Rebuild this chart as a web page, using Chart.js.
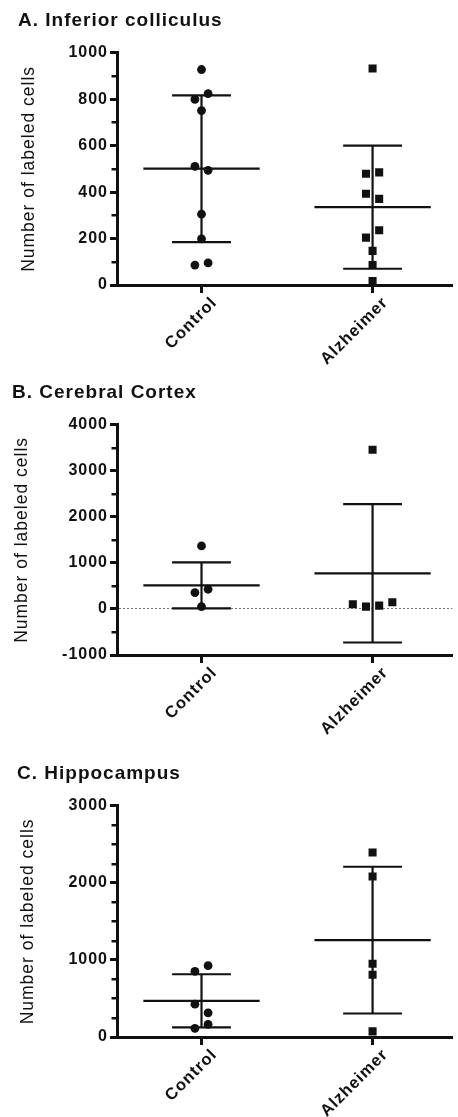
<!DOCTYPE html>
<html>
<head>
<meta charset="utf-8">
<script src="https://cdn.jsdelivr.net/npm/chart.js@4"></script>
<style>
html,body{margin:0;padding:0;background:#fff;}
#wrap{position:relative;width:458px;height:1117px;overflow:hidden;background:#fff;}
.panel{position:absolute;left:0;width:458px;}
canvas{display:block;}
</style>
</head>
<body>
<div id="wrap">
  <div class="panel" style="top:0;height:372px"><canvas id="cA"></canvas></div>
  <div class="panel" style="top:372px;height:381px"><canvas id="cB"></canvas></div>
  <div class="panel" style="top:753px;height:364px"><canvas id="cC"></canvas></div>
</div>
<script>
// ---------- data ----------
const categories = ['Control', 'Alzheimer'];
const panelTitles = ['A. Inferior colliculus', 'B. Cerebral Cortex', 'C. Hippocampus'];
const yAxisTitle = 'Number of labeled cells';

// A. Inferior colliculus
const icControl   = [928, 824, 799, 751, 511, 494, 305, 199, 95, 86];
const icAlzheimer = [932, 485, 479, 393, 371, 236, 204, 147, 86, 17];
const icMean = [501, 335];
const icSD   = [316, 265];
const icTicks = [0, 200, 400, 600, 800, 1000];
const icMinorTicks = [100, 300, 500, 700, 900];

// B. Cerebral Cortex
const ccControl   = [1370, 428, 355, 51];
const ccAlzheimer = [3457, 145, 101, 72, 51];
const ccMean = [514, 775];
const ccSD   = [500, 1504];
const ccTicks = [-1000, 0, 1000, 2000, 3000, 4000];
const ccMinorTicks = [-500, 500, 1500, 2500, 3500];

// C. Hippocampus
const hcControl   = [926, 852, 426, 313, 165, 113];
const hcAlzheimer = [2394, 2083, 951, 808, 73];
const hcMean = [470, 1257];
const hcSD   = [344, 952];
const hcTicks = [0, 1000, 2000, 3000];
const hcMinorTicks = [250, 500, 750, 1250, 1500, 1750, 2250, 2500, 2750];

// ---------- layout ----------
const FONT = '"Liberation Sans", Arial, Helvetica, sans-serif';
const INK = '#111';
Chart.defaults.font.family = FONT;
Chart.defaults.color = INK;

const AXIS_LEFT = 117;      // page x of y axis
const PLOT_H = 230;
const X_MIN = -0.494, X_MAX = 1.466;
const JIT = 0.0385;         // one jitter step in x units
const MEAN_HALF = 0.34, CAP_HALF = 0.172;

function jitter(values, pxPerUnit) {
  const order = values.map((v, i) => i).sort((a, b) => values[b] - values[a]);
  const off = values.map(() => 0);
  const clusters = [];
  let cur = [order[0]];
  for (let k = 1; k < order.length; k++) {
    if ((values[order[k - 1]] - values[order[k]]) * pxPerUnit < 9) cur.push(order[k]);
    else { clusters.push(cur); cur = [order[k]]; }
  }
  clusters.push(cur);
  let sign = 1;
  clusters.forEach(c => {
    const n = c.length;
    if (n === 1) return;
    const pos = [];
    for (let p = n - 1; p >= 0; p -= 2) {
      if (p === 0) pos.push(0); else pos.push(sign * p, -sign * p);
    }
    c.forEach((id, j) => { off[id] = pos[j]; });
    sign = -sign;
  });
  return off;
}

function points(values, cat, pxPerUnit) {
  const off = jitter(values, pxPerUnit);
  return values.map((v, i) => ({ x: cat + off[i] * JIT, y: v }));
}

function summary(cat, mean, sd) {
  return [
    { x: cat - MEAN_HALF, y: mean }, { x: cat + MEAN_HALF, y: mean }, { x: cat, y: null },
    { x: cat - CAP_HALF, y: mean + sd }, { x: cat + CAP_HALF, y: mean + sd }, { x: cat, y: null },
    { x: cat - CAP_HALF, y: mean - sd }, { x: cat + CAP_HALF, y: mean - sd }, { x: cat, y: null },
    { x: cat, y: mean + sd }, { x: cat, y: mean - sd }
  ];
}

const spacingPlugin = {
  id: 'spacing',
  beforeLayout(chart) { chart.ctx.letterSpacing = '1px'; },
  beforeDraw(chart) { chart.ctx.letterSpacing = '1px'; }
};

const minorTickPlugin = {
  id: 'minorTicks',
  afterDraw(chart, args, opts) {
    const y = chart.scales.y, ctx = chart.ctx;
    ctx.save();
    ctx.strokeStyle = INK;
    ctx.lineWidth = 2.5;
    (opts.values || []).forEach(v => {
      const py = Math.round(y.getPixelForValue(v)) + 0.25;
      ctx.beginPath();
      ctx.moveTo(y.right - 5.5, py);
      ctx.lineTo(y.right, py);
      ctx.stroke();
    });
    ctx.restore();
  }
};

function makePanel(id, cfg) {
  const pxPerUnit = PLOT_H / (cfg.max - cfg.min);
  new Chart(document.getElementById(id), {
    type: 'scatter',
    data: {
      datasets: [
        { data: points(cfg.control, 0, pxPerUnit), pointStyle: 'circle', pointRadius: 4.4,
          backgroundColor: INK, borderWidth: 0 },
        { data: points(cfg.alz, 1, pxPerUnit), pointStyle: 'rect', pointRadius: 5.7,
          backgroundColor: INK, borderWidth: 0 },
        { data: summary(0, cfg.mean[0], cfg.sd[0]), showLine: true, pointRadius: 0,
          borderColor: INK, borderWidth: 2.2, spanGaps: false },
        { data: summary(1, cfg.mean[1], cfg.sd[1]), showLine: true, pointRadius: 0,
          borderColor: INK, borderWidth: 2.2, spanGaps: false }
      ]
    },
    plugins: [spacingPlugin, minorTickPlugin],
    options: {
      responsive: true,
      maintainAspectRatio: false,
      animation: false,
      events: [],
      layout: { padding: { left: cfg.padLeft, right: 0, top: 0, bottom: 0 } },
      plugins: {
        legend: { display: false },
        tooltip: { enabled: false },
        minorTicks: { values: cfg.minor },
        title: {
          display: true, text: cfg.title, align: 'start', color: INK,
          font: { family: FONT, size: 19, weight: 'bold' },
          padding: { top: 9, bottom: 21 }
        }
      },
      scales: {
        x: {
          type: 'linear', min: X_MIN, max: X_MAX,
          afterBuildTicks: s => { s.ticks = categories.map((c, i) => ({ value: i })); },
          afterFit: s => { s.height = cfg.height - cfg.bottom; },
          ticks: {
            callback: v => categories[v], autoSkip: false,
            minRotation: 45, maxRotation: 45, padding: 0, labelOffset: 13, color: INK,
            font: { family: FONT, size: 16.5, weight: 'bold' }
          },
          grid: { drawOnChartArea: false, tickLength: 8, tickWidth: 3, tickColor: INK },
          border: { color: INK, width: 3 }
        },
        y: {
          min: cfg.min, max: cfg.max,
          afterBuildTicks: s => { s.ticks = cfg.ticks.map(v => ({ value: v })); },
          afterFit: s => { s.width = AXIS_LEFT - cfg.padLeft; },
          ticks: { color: INK, padding: 2, callback: v => String(v),
                   font: { family: FONT, size: 16, weight: 'bold' } },
          title: {
            display: true, text: yAxisTitle, color: INK,
            font: { family: FONT, size: 17.5, weight: '500' },
            padding: { top: cfg.titlePad, bottom: 0 }
          },
          grid: {
            drawOnChartArea: cfg.zeroLine,
            color: c => (cfg.zeroLine && c.tick && c.tick.value === 0) ? '#777' : 'rgba(0,0,0,0)',
            lineWidth: 1, tickLength: 7, tickWidth: 3, tickColor: INK
          },
          border: { color: INK, width: 3, dash: [2, 2] }
        }
      }
    }
  });
}

makePanel('cA', { title: panelTitles[0], control: icControl, alz: icAlzheimer, mean: icMean, sd: icSD,
  ticks: icTicks, minor: icMinorTicks, min: 0, max: 1000, padLeft: 18, titlePad: 1,
  height: 372, bottom: 285, zeroLine: false });
makePanel('cB', { title: panelTitles[1], control: ccControl, alz: ccAlzheimer, mean: ccMean, sd: ccSD,
  ticks: ccTicks, minor: ccMinorTicks, min: -1000, max: 4000, padLeft: 12, titlePad: 0,
  height: 381, bottom: 283, zeroLine: true });
makePanel('cC', { title: panelTitles[2], control: hcControl, alz: hcAlzheimer, mean: hcMean, sd: hcSD,
  ticks: hcTicks, minor: hcMinorTicks, min: 0, max: 3000, padLeft: 17, titlePad: 1,
  height: 364, bottom: 284, zeroLine: false });
</script>
</body>
</html>
